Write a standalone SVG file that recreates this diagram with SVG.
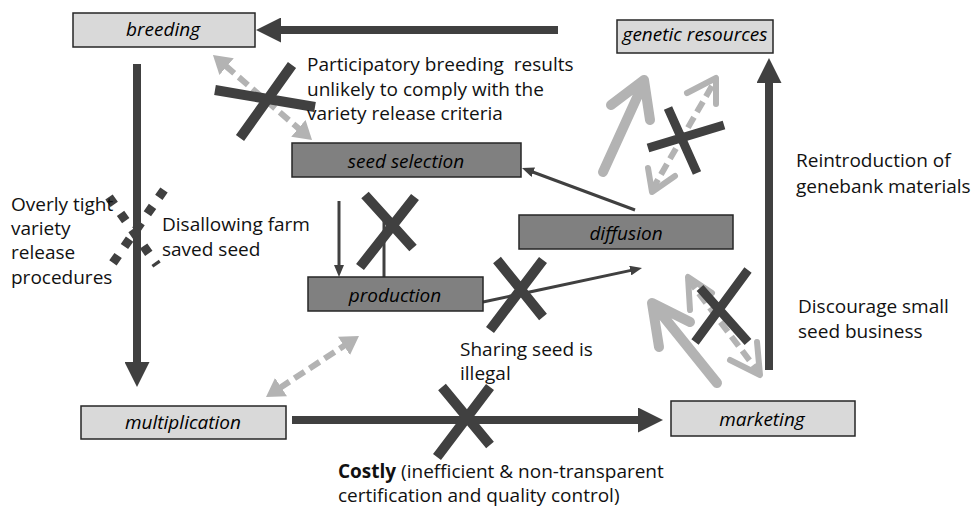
<svg xmlns="http://www.w3.org/2000/svg" width="976" height="508" viewBox="0 0 976 508">
<defs>
<style>
.box{stroke:#262626;stroke-width:1.5}
.light{fill:#d9d9d9}
.mid{fill:#808080}
.lbl{font-family:"Open Sans","Liberation Sans",sans-serif;font-size:19px;font-style:italic;fill:#000;text-anchor:middle}
.txt{font-family:"Open Sans","Liberation Sans",sans-serif;font-size:19px;fill:#111}
.thick{stroke:#404040;stroke-width:8;fill:none}
.thin{stroke:#404040;stroke-width:3;fill:none}
.gdash{stroke:#b3b3b3;stroke-width:6;fill:none;stroke-dasharray:12 6}
.gsolid{stroke:#b3b3b3;stroke-width:10;fill:none;stroke-linecap:round;stroke-linejoin:round}
.gchev{stroke:#b3b3b3;stroke-width:6;fill:none;stroke-linecap:round;stroke-linejoin:round}
.cross{stroke:#404040;stroke-width:10;fill:none}
.dots{stroke:#404040;stroke-width:9;fill:none;stroke-dasharray:9 11}
</style>
<marker id="hThick" markerUnits="userSpaceOnUse" markerWidth="25" markerHeight="25" refX="3" refY="12.5" orient="auto"><path d="M0,0 L25,12.5 L0,25 Z" fill="#404040"/></marker>
<marker id="hThin" markerUnits="userSpaceOnUse" markerWidth="12" markerHeight="10" refX="2" refY="5" orient="auto"><path d="M0,0 L12,5 L0,10 Z" fill="#404040"/></marker>
<marker id="hGray" markerUnits="userSpaceOnUse" markerWidth="18" markerHeight="22" refX="2" refY="11" orient="auto-start-reverse"><path d="M0,0 L18,11 L0,22 Z" fill="#b3b3b3"/></marker>
</defs>
<rect width="976" height="508" fill="#fff"/>

<g id="connectors">
<line class="thick" x1="558" y1="30" x2="278" y2="30" marker-end="url(#hThick)"/>
<line class="thick" x1="137" y1="64" x2="137" y2="365" marker-end="url(#hThick)"/>
<line class="thick" x1="292" y1="420" x2="641" y2="420" marker-end="url(#hThick)"/>
<line class="thick" x1="769" y1="370" x2="769" y2="80" marker-end="url(#hThick)"/>
<line class="thin" x1="635" y1="210" x2="531.4" y2="171.5" marker-end="url(#hThin)"/>
<line class="thin" x1="483" y1="302" x2="632.2" y2="270.1" marker-end="url(#hThin)"/>
<line class="thin" x1="339" y1="201" x2="339" y2="267" marker-end="url(#hThin)"/>
<line class="thin" x1="384" y1="277" x2="384" y2="212"/>
<line class="gdash" x1="225.1" y1="65.4" x2="299.9" y2="129.6" marker-start="url(#hGray)" marker-end="url(#hGray)"/>
<line class="gdash" x1="279.4" y1="388.2" x2="345.6" y2="344.8" marker-start="url(#hGray)" marker-end="url(#hGray)"/>
<path class="gsolid" d="M603,172 L644,82 M611,105 L644,80 L650,120"/>
<line class="gdash" x1="652" y1="190" x2="716" y2="79"/>
<path class="gchev" d="M687,93 L716,78 L716,104 M648,168 L652,192 L675,176"/>
<path class="gsolid" d="M717,383 L655,306 M690,322 L652,303 L659,347"/>
<line class="gdash" x1="688" y1="279" x2="759" y2="373"/>
<path class="gchev" d="M712,293 L688,277 L690,310 M730,360 L760,375 L757,342"/>
</g>

<g id="marks">
<path class="cross" d="M215,90 L315,107 M292,65 L240,138"/>
<path class="cross" d="M365,195 L413,248 M415,197 L360,267"/>
<path class="cross" d="M497,260 L543,317 M543,260 L490,330"/>
<path class="cross" d="M442,387 L490,445 M490,387 L437,457"/>
<path class="cross" style="stroke-width:9" d="M648,148 L724,125 M668,108 L697,173"/>
<path class="cross" style="stroke-width:9" d="M700,288 L748,342 M748,270 L695,342"/>
<path class="dots" d="M109,197 L157,265 M164,190 L108,270"/>
</g>

<g id="breeding"><rect class="box light" x="73" y="13" width="182" height="34"/><text class="lbl" x="163" y="36">breeding</text></g>
<g id="genetic-resources"><rect class="box light" x="617" y="20" width="156" height="33"/><text class="lbl" x="695" y="41">genetic resources</text></g>
<g id="seed-selection"><rect class="box mid" x="292" y="143" width="229" height="34"/><text class="lbl" x="406" y="168">seed selection</text></g>
<g id="diffusion"><rect class="box mid" x="519" y="215" width="214" height="34"/><text class="lbl" x="626" y="240">diffusion</text></g>
<g id="production"><rect class="box mid" x="308" y="277" width="175" height="34"/><text class="lbl" x="395" y="302">production</text></g>
<g id="multiplication"><rect class="box light" x="81" y="406" width="205" height="33"/><text class="lbl" x="183" y="429">multiplication</text></g>
<g id="marketing"><rect class="box light" x="671" y="401" width="184" height="35"/><text class="lbl" x="762" y="426">marketing</text></g>

<g id="labels">
<text class="txt" x="307" y="71">Participatory breeding &#160;results</text>
<text class="txt" x="307" y="96">unlikely to comply with the</text>
<text class="txt" x="307" y="120">variety release criteria</text>
<text class="txt" x="796" y="167">Reintroduction of</text>
<text class="txt" x="796" y="193">genebank materials</text>
<text class="txt" x="798" y="313">Discourage small</text>
<text class="txt" x="798" y="338">seed business</text>
<text class="txt" x="11" y="211">Overly tight</text>
<text class="txt" x="11" y="235">variety</text>
<text class="txt" x="11" y="259">release</text>
<text class="txt" x="11" y="284">procedures</text>
<text class="txt" x="162" y="231">Disallowing farm</text>
<text class="txt" x="162" y="256">saved seed</text>
<text class="txt" x="460" y="356">Sharing seed is</text>
<text class="txt" x="460" y="380">illegal</text>
<text class="txt" x="338" y="478"><tspan font-weight="bold">Costly</tspan> (inefficient &amp; non-transparent</text>
<text class="txt" x="338" y="502">certification and quality control)</text>
</g>
</svg>
